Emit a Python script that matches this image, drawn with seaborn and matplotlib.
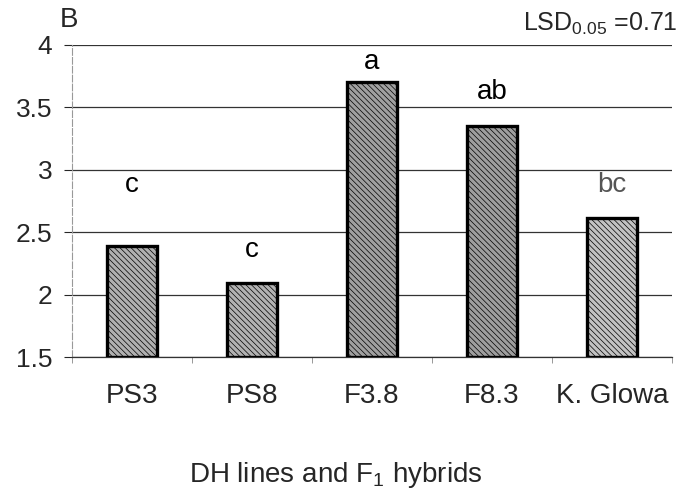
import numpy as np
import pandas as pd
import seaborn as sns
from matplotlib import pyplot as plt

categories = ["PS3", "PS8", "F3.8", "F8.3", "K. Glowa"]
values = [2.39, 2.09, 3.70, 3.35, 2.61]
letters = ["c", "c", "a", "ab", "bc"]
letter_y = [2.88, 2.36, 3.86, 3.62, 2.88]
bar_colors = ["#b0b0b0", "#b2b2b2", "#a0a0a0", "#9e9e9e", "#c2c2c2"]
letter_colors = ["black", "black", "black", "black", "#555555"]
yticks = [1.5, 2, 2.5, 3, 3.5, 4]

sns.set_style("white")
plt.rcParams["font.family"] = ["Liberation Sans", "DejaVu Sans"]
plt.rcParams["hatch.linewidth"] = 0.5

df = pd.DataFrame({"line": categories, "value": values})

fig = plt.figure(figsize=(6.97, 4.98), dpi=100)
ax = fig.add_axes([0.103, 0.283, 0.861, 0.627])

sns.barplot(data=df, x="line", y="value", hue="line", palette=bar_colors,
            legend=False, width=0.42, edgecolor="black", linewidth=2.4,
            ax=ax, zorder=3)

# bars start at the axis floor 1.5
for p, v in zip(ax.patches, values):
    p.set_y(1.5)
    p.set_height(v - 1.5)
    p.set_hatch("\\\\\\\\\\\\")
    if hasattr(p, "set_hatchcolor"):
        p.set_hatchcolor("#808080")

for i, (t, y, c) in enumerate(zip(letters, letter_y, letter_colors)):
    ax.text(i, y, t, ha="center", va="center", fontsize=20, color=c)

ax.set_ylim(1.5, 4)
ax.set_xlim(-0.5, 4.5)
ax.set_yticks(yticks)
ax.set_yticklabels(["1.5", "2", "2.5", "3", "3.5", "4"], fontsize=19)
ax.tick_params(axis="x", labelsize=20, pad=19, length=0)
ax.tick_params(axis="y", length=6, width=0.8, pad=8, direction="out", left=True)
ax.yaxis.grid(True, color="#333333", linewidth=0.9, zorder=0)
ax.set_axisbelow(True)

# small ticks on baseline between categories
ax.set_xticks(np.arange(-0.5, 5.0, 1.0), minor=True)
ax.tick_params(axis="x", which="minor", length=4, color="#888888", direction="out", bottom=True)

for s in ["top", "right"]:
    ax.spines[s].set_visible(False)
ax.spines["left"].set_color("#999999")
ax.spines["left"].set_linestyle((0, (6, 2)))
ax.spines["left"].set_linewidth(0.8)
ax.spines["bottom"].set_color("#333333")
ax.spines["bottom"].set_linewidth(0.9)

ax.set_xlabel("DH lines and F$\\mathregular{_1}$ hybrids", fontsize=20)
ax.xaxis.set_label_coords(0.44, -0.33)
ax.set_ylabel("")

fig.text(0.099, 0.96, "B", fontsize=20, ha="center", va="center")
fig.text(0.972, 0.952, "LSD$\\mathregular{_{0.05}}$ =0.71", fontsize=18, ha="right", va="center")

fig.savefig("out.png", dpi=100)
